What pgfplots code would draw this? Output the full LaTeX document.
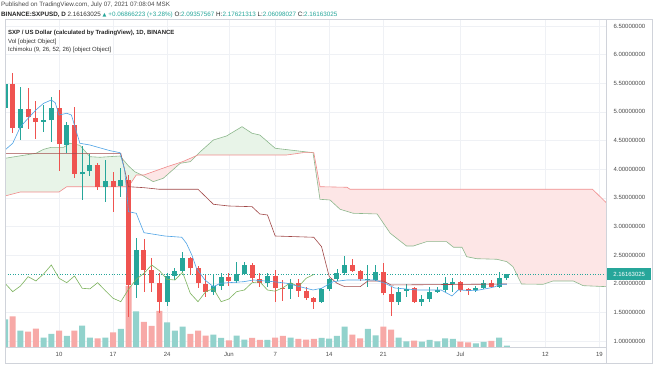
\documentclass[border=0pt]{standalone}
\usepackage{pgfplots}
\pgfplotsset{compat=1.18}
\usepackage{pgfplotstable}
\usepackage{fontspec}
\setmainfont{Liberation Sans}
\newfontfamily\symfont{DejaVu Sans}
\definecolor{up}{HTML}{26A69A}
\definecolor{dn}{HTML}{EF5350}
\definecolor{vup}{HTML}{92D2CC}
\definecolor{vdn}{HTML}{F7A9A7}
\definecolor{tenkan}{HTML}{4DA3E6}
\definecolor{kijun}{HTML}{A14848}
\definecolor{chikou}{HTML}{7DB35E}
\definecolor{leadA}{HTML}{8DB88D}
\definecolor{leadB}{HTML}{F08C8C}
\definecolor{cloudG}{HTML}{E8F4E8}
\definecolor{cloudR}{HTML}{FDE6E6}
\definecolor{gridc}{HTML}{EFF1F5}
\definecolor{txt}{HTML}{4A4A4A}
\definecolor{frame}{HTML}{D0D3DA}

% up candles: i open high low close volume
\pgfplotstableread{
i o h l c v
-7 5.07 5.94 4.95 5.48 27.7
-5 4.714 5.440 4.510 5.046 16.3
-2 4.829 5.121 4.655 4.859 9.3
-1 4.853 5.266 4.480 5.074 13
1 4.417 4.83 4.277 4.772 11
3 3.911 4.405 3.462 3.951 21.3
4 3.968 4.26 3.881 4.068 9.3
6 3.694 4.160 3.432 3.799 9.3
8 3.706 4.016 3.52 3.811 18
10 1.978 2.793 1.746 2.589 35.7
14 1.686 2.182 1.616 2.140 24.7
15 2.140 2.269 2.065 2.222 16.3
16 2.222 2.559 2.20 2.444 20.3
20 1.861 2.165 1.803 1.960 12.3
21 1.960 2.18 1.89 2.123 9
23 2.053 2.385 2.01 2.170 11.3
24 2.170 2.385 2.15 2.327 7.3
27 2.018 2.18 1.948 2.135 7
30 1.903 2.077 1.728 2.018 9.3
34 1.686 1.92 1.66 1.903 9
35 1.903 2.10 1.87 2.077 8.3
36 2.077 2.25 2.05 2.182 11
37 2.182 2.484 2.16 2.327 20.3
40 2.06 2.327 1.948 2.075 18
41 2.06 2.327 2.04 2.20 11.7
44 1.686 1.948 1.629 1.861 9.3
45 1.878 2.0 1.774 1.913 5.7
47 1.686 1.80 1.61 1.733 5.3
48 1.733 1.948 1.686 1.861 7
49 1.861 1.95 1.83 1.89 5.7
50 1.89 2.12 1.86 2.018 8.7
51 2.0 2.095 1.861 2.035 8
54 1.89 1.96 1.85 1.93 3.7
55 1.93 2.06 1.90 2.018 5
57 1.948 2.2 1.92 2.094 9.3
58 2.0936 2.1762 2.0610 2.1616 1.3
}\upc

% down candles
\pgfplotstableread{
i o h l c v
-6 5.482 5.674 4.632 4.714 30.7
-4 5.046 5.423 4.697 4.906 15.3
-3 4.899 5.191 4.532 4.824 18.3
0 5.074 5.383 3.974 4.435 16.3
2 4.772 5.091 3.841 3.916 16.3
5 4.068 4.10 3.637 3.689 8.7
7 3.799 3.946 3.258 3.694 14.7
9 3.811 3.899 1.424 1.978 61
11 2.589 2.781 1.861 2.240 25
12 2.240 2.444 1.861 2.007 21
13 2.007 2.182 1.49 1.686 36
17 2.444 2.47 2.152 2.269 13
18 2.269 2.31 1.92 2.007 16.3
19 1.995 2.152 1.763 1.861 11.3
22 2.112 2.193 1.96 2.048 6.7
25 2.327 2.357 2.036 2.095 9
26 2.083 2.193 1.948 2.018 7
28 2.135 2.240 1.686 1.920 9.3
29 1.93 2.06 1.69 1.91 11
31 2.018 2.077 1.774 1.878 8
32 1.873 1.948 1.72 1.746 7.3
33 1.746 1.76 1.553 1.686 8
38 2.327 2.427 2.2 2.228 12.3
39 2.228 2.24 2.04 2.077 8.7
42 2.2 2.357 1.80 1.833 20.3
43 1.821 1.95 1.437 1.686 17.3
46 1.92 1.948 1.658 1.686 6.3
52 2.025 2.05 1.86 1.89 5.3
53 1.90 1.93 1.80 1.87 4.7
56 2.018 2.06 1.92 1.948 6
}\dnc

\pgfplotstableread{
x y
-7 4.335
-6 4.452
-5 4.742
-4 4.889
-3 5.034
-2 5.150
-1 5.208
-0.5 5.161
0 4.946
1 4.976
1.6 4.946
2.7 4.452
4 4.422
6.6 4.323
7.9 4.288
8.5 3.986
9 3.258
10 3.230
11 2.891
13.7 2.833
15.9 2.811
16.5 2.706
17.2 2.502
17.8 2.269
18.9 2.065
20 1.948
20.9 2.008
23.9 2.035
25.2 2.065
27.8 2.035
29.5 2.008
31.2 1.948
32.9 1.891
34 1.920
35.5 2.035
37.3 2.065
40.9 2.065
42.2 2.008
43.5 1.925
46.5 1.89
49.5 1.89
50.9 1.786
51.7 1.89
53.9 1.878
55.6 1.920
56.5 1.948
57.1 1.99
58 1.99
}\tenkan

\pgfplotstableread{
x y
-7 4.277
8 4.277
9 3.694
11 3.677
13 3.649
18 3.649
20 3.387
22 3.357
25 3.345
26 3.218
27 3.2
28 2.833
33 2.811
34 2.647
35 2.123
36 2.008
37 1.948
39 1.948
40 2.048
42 2.048
43 1.978
58 1.995
}\kijun

\pgfplotstableread{
x y
-7 2.007
-6 1.861
-5 1.960
-4 2.123
-3 2.048
-2 2.170
-1 2.327
0 2.095
1 2.018
2 2.135
3 1.920
4 1.91
5 2.018
6 1.878
7 1.746
8 1.686
9 1.903
10 2.077
11 2.182
12 2.327
13 2.228
14 2.077
15 2.065
16 2.20
17 1.833
18 1.686
19 1.861
20 1.913
21 1.686
22 1.733
23 1.861
24 1.89
25 2.018
26 2.035
27 1.89
28 1.87
29 1.93
30 2.018
31 1.948
32 2.094
33 2.1616
}\chikou

\pgfplotstableread{
x y
-7 4.19
-3 4.277
-2 4.347
-1 4.382
0.6 4.382
1.4 4.452
2.7 4.417
4 4.218
5.3 4.208
7.9 4.23
9 4.056
9.8 3.956
10.7 3.899
12.2 3.782
13.5 3.841
15.7 4.103
17 4.131
18.3 4.306
20 4.51
21.7 4.58
23.7 4.742
25 4.627
26 4.597
28 4.365
29.9 4.335
32.9 4.288
33.8 3.474
35.1 3.462
36.4 3.30
38.1 3.23
41.2 3.218
42.9 2.881
45 2.659
45.9 2.659
47.6 2.734
50.2 2.734
51.1 2.636
52.2 2.636
52.8 2.472
54.1 2.437
56.7 2.427
58 2.385
58.8 2.297
59.9 1.995
62.7 1.99
64 2.048
66.6 2.048
67.9 1.966
71 1.948
}\leadA

\pgfplotstableread{
x y
-7 3.532
-5 3.602
0 3.602
1 3.694
9 3.694
10 3.899
11 3.899
14 4.043
16 4.131
18 4.248
29.5 4.248
31.6 4.288
33 4.288
33.8 3.694
37.3 3.684
37.7 3.649
69.1 3.649
71 3.40
}\leadB

\begin{document}
\begin{tikzpicture}[x=1pt,y=1pt]
\useasboundingbox (0,0) rectangle (654,366);
\fill[white] (0,0) rectangle (654,366);
\begin{axis}[
  at={(5pt,19pt)}, anchor=south west, scale only axis,
  width=601pt, height=328pt,
  xmin=-7, xmax=70.85, ymin=0.895, ymax=6.6225,
  axis line style={draw=frame, line width=0.6pt},
  xtick={0,7,14,22,28,35,42,52,63,70},
  xticklabels={10,17,24,Jun,7,14,21,Jul,12,19},
  ytick={1,1.5,2,2.5,3,3.5,4,4.5,5,5.5,6,6.5},
  yticklabels={1.00000000,1.50000000,2.00000000,2.50000000,3.00000000,3.50000000,4.00000000,4.50000000,5.00000000,5.50000000,6.00000000,6.50000000},
  yticklabel pos=right,
  major tick length=0pt,
  xmajorgrids, ymajorgrids,
  grid style={draw=gridc, line width=0.6pt},
  tick label style={font=\fontsize{6}{7}\selectfont, text=txt},
  xticklabel style={anchor=center, yshift=-7.5pt},
  yticklabel style={anchor=west, xshift=4pt},
  /pgf/number format/assume math mode=true,
  candle/.style={draw=none, mark=none, forget plot,
    error bars/y explicit, error bars/error mark=none},
]
% volume
\addplot[ybar, bar width=6pt, bar shift=0pt, fill=vdn, draw=none, forget plot]
  table[x=i, y expr=\thisrow{v}/57.27+0.895] {\dnc};
\addplot[ybar, bar width=6pt, bar shift=0pt, fill=vup, draw=none, forget plot]
  table[x=i, y expr=\thisrow{v}/57.27+0.895] {\upc};
% cloud fills (lead A forward, lead B back)
\addplot[fill=cloudG, draw=none, forget plot] coordinates {
 (-7,4.19) (-3,4.277) (-2,4.347) (-1,4.382) (0.6,4.382) (1.4,4.452) (2.7,4.417) (4,4.218) (5.3,4.208) (7.9,4.23) (9,4.056) (9.8,3.956) (10.6,3.899)
 (10,3.899) (9,3.694) (1,3.694) (0,3.602) (-5,3.602) (-7,3.532)} -- cycle;
\addplot[fill=cloudR, draw=none, forget plot] coordinates {
 (10.6,3.899) (11,3.899) (14,4.043) (16,4.131) (17.7,4.228)
 (17,4.131) (15.7,4.103) (13.5,3.841) (12.2,3.782) (10.7,3.899)} -- cycle;
\addplot[fill=cloudG, draw=none, forget plot] coordinates {
 (17.7,4.228) (18.3,4.306) (20,4.51) (21.7,4.58) (23.7,4.742) (25,4.627) (26,4.597) (28,4.365) (29.9,4.335) (32.9,4.288)
 (31.6,4.288) (29.5,4.248) (18,4.248)} -- cycle;
\addplot[fill=cloudR, draw=none, forget plot] coordinates {
 (33,4.288) (33.8,3.694) (37.3,3.684) (37.7,3.649) (69.1,3.649) (71,3.40)
 (71,1.948) (67.9,1.966) (66.6,2.048) (64,2.048) (62.7,1.99) (59.9,1.995) (58.8,2.297) (58,2.385) (56.7,2.427) (54.1,2.437) (52.8,2.472) (52.2,2.636) (51.1,2.636) (50.2,2.734) (47.6,2.734) (45.9,2.659) (45,2.659) (42.9,2.881) (41.2,3.218) (38.1,3.23) (36.4,3.30) (35.1,3.462) (33.8,3.474) (32.9,4.288)} -- cycle;
\addplot[leadA, line width=0.6pt, forget plot] table[x=x,y=y] {\leadA};
\addplot[leadB, line width=0.6pt, forget plot] table[x=x,y=y] {\leadB};
% current price line
\addplot[up, dotted, line width=0.6pt, forget plot] coordinates {(-7,2.16163025) (71,2.16163025)};
% candles: wicks
\addplot[candle, error bars/y dir=both,
  error bars/error bar style={draw=up, solid, line width=0.9pt}]
  table[x=i, y=o, y error plus expr=\thisrow{h}-\thisrow{o}, y error minus expr=\thisrow{o}-\thisrow{l}] {\upc};
\addplot[candle, error bars/y dir=both,
  error bars/error bar style={draw=dn, solid, line width=0.9pt}]
  table[x=i, y=o, y error plus expr=\thisrow{h}-\thisrow{o}, y error minus expr=\thisrow{o}-\thisrow{l}] {\dnc};
% candles: bodies
\addplot[candle, error bars/y dir=plus,
  error bars/error bar style={draw=up, solid, line width=5pt}]
  table[x=i, y=o, y error plus expr=\thisrow{c}-\thisrow{o}] {\upc};
\addplot[candle, error bars/y dir=plus,
  error bars/error bar style={draw=dn, solid, line width=5pt}]
  table[x=i, y=c, y error plus expr=\thisrow{o}-\thisrow{c}] {\dnc};
% ichimoku lines
\addplot[chikou, line width=0.6pt, forget plot] table[x=x,y=y] {\chikou};
\addplot[kijun, line width=0.6pt, forget plot] table[x=x,y=y] {\kijun};
\addplot[tenkan, line width=0.6pt, forget plot] table[x=x,y=y] {\tenkan};
\end{axis}
% frame
\draw[frame, line width=0.6pt] (5,3) rectangle (652,347);
\draw[frame, line width=0.6pt] (606,3) -- (606,347);
% price label
\node[fill=up, text=white, font=\fontsize{6}{7}\selectfont, inner sep=0pt, minimum height=11.5pt, minimum width=44pt, anchor=west] at (607,91.8) {2.16163025};
% header
\node[anchor=west, inner sep=0pt, text=txt, font=\fontsize{6.3}{7}\selectfont] at (1,361) {Published on TradingView.com, July 07, 2021 07:08:04 MSK};
\node[anchor=west, inner sep=0pt, font=\fontsize{6.3}{7}\selectfont] at (1,351) {\textcolor{black!85}{\textbf{BINANCE:SXPUSD, D}} \textcolor{black!80}{2.16163025} \textcolor{up}{{\symfont\fontsize{5}{6}\selectfont ▲} +0.06866223 (+3.28\%)} \textcolor{black!85}{O:}\textcolor{up}{2.09357567} \textcolor{black!85}{H:}\textcolor{up}{2.17621313} \textcolor{black!85}{L:}\textcolor{up}{2.06098027} \textcolor{black!85}{C:}\textcolor{up}{2.16163025}};
\node[anchor=west, inner sep=0pt, text=black!85, font=\fontsize{6}{7}\selectfont\bfseries] at (8,333) {SXP / US Dollar (calculated by TradingView), 1D, BINANCE};
\node[anchor=west, inner sep=0pt, text=black!80, font=\fontsize{6}{7}\selectfont] at (8,324.5) {Vol [object Object]};
\node[anchor=west, inner sep=0pt, text=black!80, font=\fontsize{6}{7}\selectfont] at (8,316) {Ichimoku (9, 26, 52, 26) [object Object]};
\end{tikzpicture}
\end{document}
